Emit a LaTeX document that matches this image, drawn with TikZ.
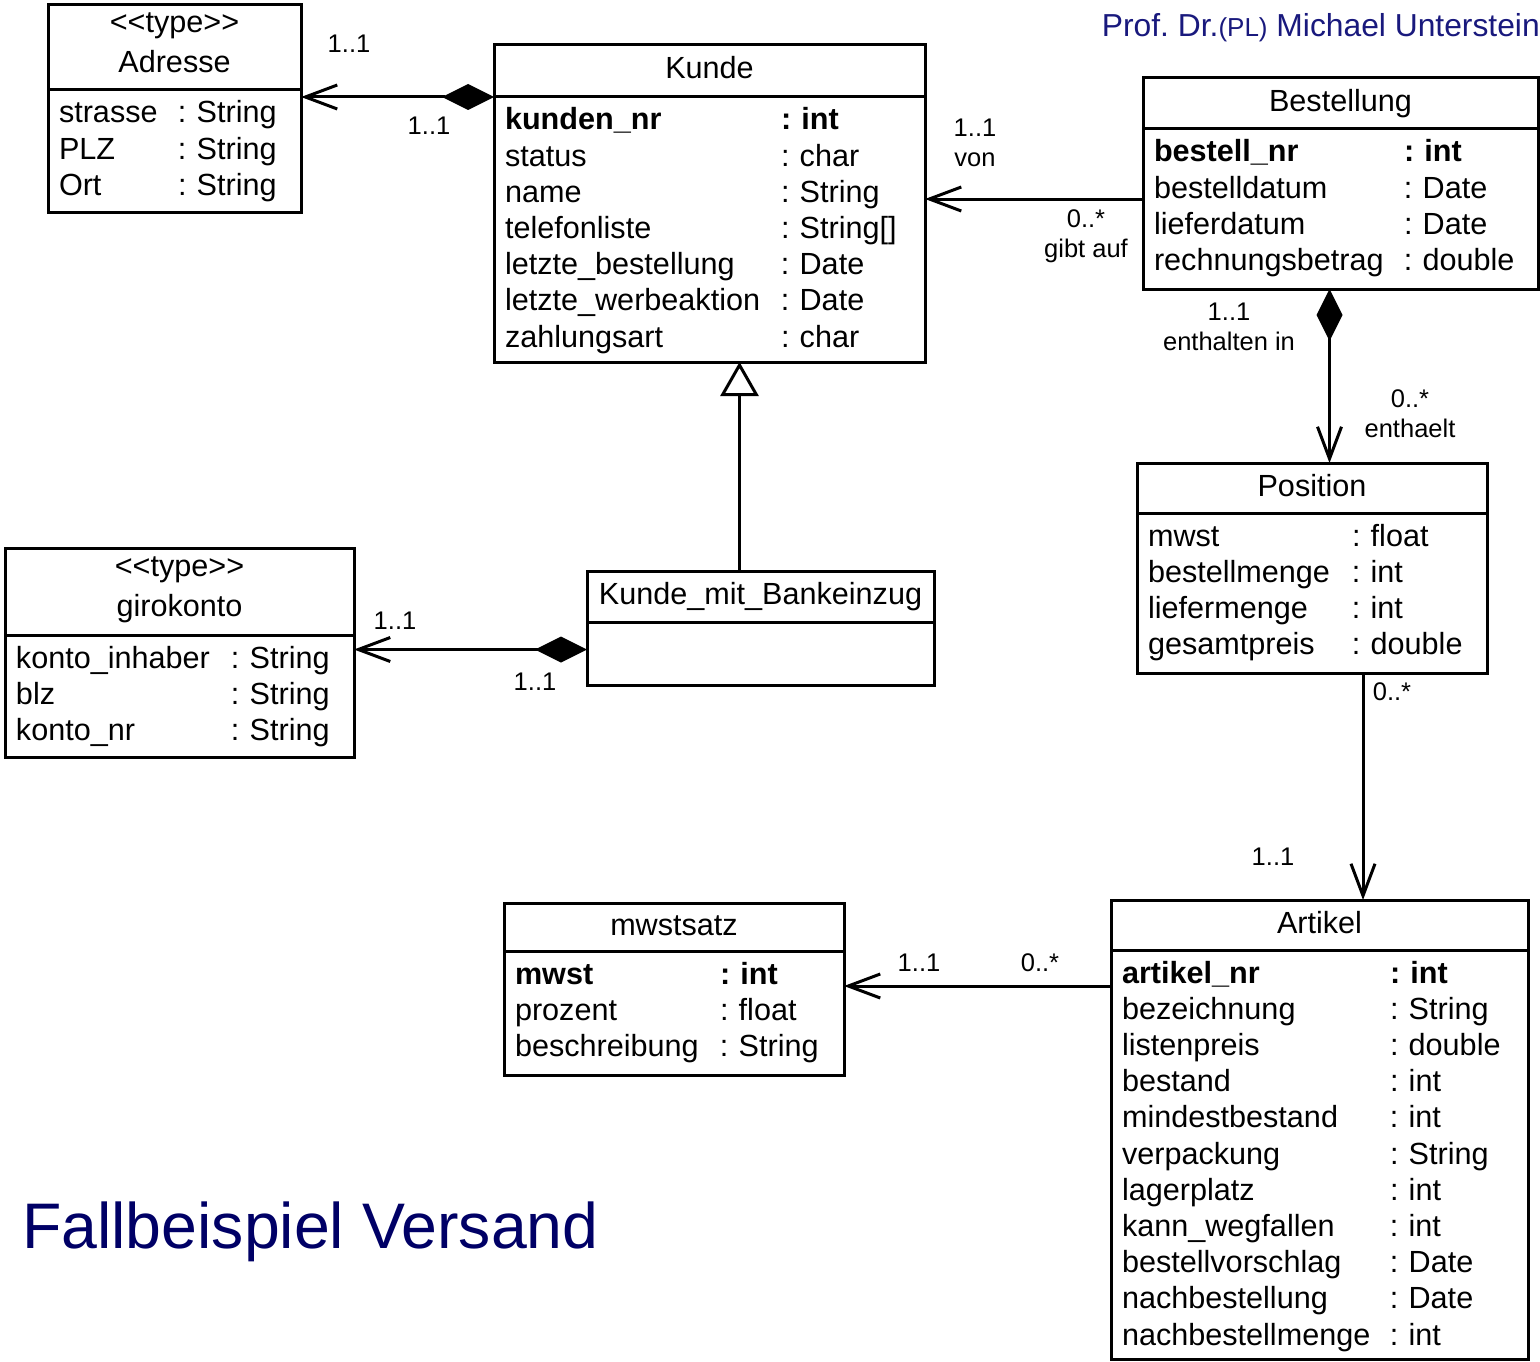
\documentclass[tikz,border=0pt]{standalone}
\usepackage{fontspec}
\setmainfont{Liberation Sans}
\usetikzlibrary{calc, positioning, arrows.meta}
\definecolor{titleblue}{RGB}{0,0,102}
\definecolor{profblue}{RGB}{25,25,125}
\frenchspacing
\newlength{\namecol}
\newcommand{\attr}[2]{\strut\makebox[\namecol][l]{#1}: #2}
\newcommand{\keyattr}[2]{\strut\textbf{\makebox[\namecol][l]{#1}: #2}}
\newcommand{\umlfont}{\fontsize{30.6}{36.2}\selectfont}
\newcommand{\multfont}{\fontsize{25.5}{30}\selectfont}
\tikzstyle{boxline}=[draw, line width=3pt, outer sep=0pt, anchor=north west, font=\umlfont]
\tikzstyle{classhead}=[boxline, align=center, inner sep=0pt, text height=22pt, text depth=6pt]
\tikzstyle{typehead}=[boxline, align=center, inner sep=0pt]
\tikzstyle{classbody}=[boxline, align=left, inner xsep=11pt, inner ysep=0pt, text height=33pt]
\tikzstyle{multlabel}=[font=\multfont, align=center, inner sep=0pt]
\tikzstyle{assoc}=[line width=3pt, -{Straight Barb[length=32pt, width=24pt]}]
\tikzstyle{comp}=[line width=3pt, {Diamond[length=52pt, width=26pt]}-{Straight Barb[length=32pt, width=24pt]}]
\tikzstyle{gen}=[line width=3pt, -{Triangle[length=34pt, width=38pt, fill=white]}]

\begin{document}
\begin{tikzpicture}[x=1pt, y=-1pt]
	\useasboundingbox (0,0) rectangle (1540,1362);
	\node[anchor=base west, inner sep=0pt, text=titleblue, font=\fontsize{64.4}{70}\selectfont] (title) at (22,1248) {Fallbeispiel Versand};
	\node[anchor=base east, inner sep=0pt, text=profblue, font=\fontsize{31.8}{36}\selectfont] (prof) at (1540,37) {Prof. Dr.{\fontsize{26}{28}\selectfont(PL)} Michael Unterstein};

	% Klassen
	\node[typehead, minimum width=253pt, minimum height=85pt] (adresse) at (48,5) {<{}<type>{}>\\[4pt]Adresse\rule[-9pt]{0pt}{9pt}};
	\node[classbody, text width=231pt, text depth=89pt] (adresseBody) at (adresse.south west) {\setlength{\namecol}{119pt}%
		\attr{strasse}{String}\\\attr{PLZ}{String}\\\attr{Ort}{String}};

	\node[classhead, minimum width=431pt, minimum height=52pt] (kunde) at (494,45) {Kunde};
	\node[classbody, text width=409pt, text depth=232pt] (kundeBody) at (kunde.south west) {\setlength{\namecol}{276pt}%
		\keyattr{kunden\_nr}{int}\\\attr{status}{char}\\\attr{name}{String}\\\attr{telefonliste}{String[]}\\
		\attr{letzte\_bestellung}{Date}\\\attr{letzte\_werbeaktion}{Date}\\\attr{zahlungsart}{char}};

	\node[classhead, minimum width=395pt, minimum height=51pt] (best) at (1143,78) {Bestellung};
	\node[classbody, text width=373pt, text depth=127pt] (bestBody) at (best.south west) {\setlength{\namecol}{250pt}%
		\keyattr{bestell\_nr}{int}\\\attr{bestelldatum}{Date}\\\attr{lieferdatum}{Date}\\\attr{rechnungsbetrag}{double}};

	\node[classhead, minimum width=350pt, minimum height=50pt] (posHead) at (1137,463) {Position};
	\node[classbody, text width=328pt, text depth=127pt] (posBody) at (posHead.south west) {\setlength{\namecol}{204pt}%
		\attr{mwst}{float}\\\attr{bestellmenge}{int}\\\attr{liefermenge}{int}\\\attr{gesamtpreis}{double}};

	\node[typehead, minimum width=349pt, minimum height=87pt] (giro) at (5,548) {<{}<type>{}>\\[4pt]girokonto\rule[-9pt]{0pt}{9pt}};
	\node[classbody, text width=327pt, text depth=89pt] (giroBody) at (giro.south west) {\setlength{\namecol}{215pt}%
		\attr{konto\_inhaber}{String}\\\attr{blz}{String}\\\attr{konto\_nr}{String}};

	\node[classhead, minimum width=347pt, minimum height=51pt] (kmbHead) at (587,571) {Kunde\_mit\_Bankeinzug};
	\node[classbody, text width=325pt, text depth=30pt] (kmbBody) at (kmbHead.south west) {};

	\node[classhead, minimum width=340pt, minimum height=48pt] (mwst) at (504,903) {mwstsatz};
	\node[classbody, text width=318pt, text depth=91pt] (mwstBody) at (mwst.south west) {\setlength{\namecol}{205pt}%
		\keyattr{mwst}{int}\\\attr{prozent}{float}\\\attr{beschreibung}{String}};

	\node[classhead, minimum width=417pt, minimum height=50pt] (artHead) at (1111,900) {Artikel};
	\node[classbody, text width=395pt, text depth=376pt] (artBody) at (artHead.south west) {\setlength{\namecol}{268pt}%
		\keyattr{artikel\_nr}{int}\\\attr{bezeichnung}{String}\\\attr{listenpreis}{double}\\\attr{bestand}{int}\\
		\attr{mindestbestand}{int}\\\attr{verpackung}{String}\\\attr{lagerplatz}{int}\\\attr{kann\_wegfallen}{int}\\
		\attr{bestellvorschlag}{Date}\\\attr{nachbestellung}{Date}\\\attr{nachbestellmenge}{int}};

	% Beziehungen
	\draw[comp] (kundeBody.north west) -- (kundeBody.north west -| adresseBody.east);
	\draw[assoc] ($(bestBody.west)+(0,-10)$) coordinate (b1) -- (b1 -| kundeBody.east);
	\draw[comp] ($(bestBody.south)+(-11,0)$) coordinate (b2) -- (b2 |- posHead.north);
	\draw[assoc] ($(posBody.south)+(51,0)$) coordinate (p1) -- (p1 |- artHead.north);
	\draw[assoc] ($(artBody.north west)+(0,36)$) coordinate (a1) -- (a1 -| mwstBody.east);
	\draw[comp] ($(kmbBody.west)+(0,-4)$) coordinate (k1) -- (k1 -| giroBody.east);
	\draw[gen] ($(kmbHead.north)+(-21,0)$) coordinate (k2) -- (k2 |- kundeBody.south);

	% Multiplizitaeten
	\node[multlabel] (m1) at (349,44) {1..1};
	\node[multlabel] (m2) at (429,126) {1..1};
	\node[multlabel] (m3) at (975,143) {1..1\\von};
	\node[multlabel] (m4) at (1086,236) {0..*\\gibt auf};
	\node[multlabel] (m5) at (1229,327) {1..1\\enthalten in};
	\node[multlabel] (m6) at (1410,414) {0..*\\enthaelt};
	\node[multlabel] (m7) at (1392,692) {0..*};
	\node[multlabel] (m8) at (1273,857) {1..1};
	\node[multlabel] (m9) at (395,621) {1..1};
	\node[multlabel] (m10) at (535,682) {1..1};
	\node[multlabel] (m11) at (919,963) {1..1};
	\node[multlabel] (m12) at (1040,963) {0..*};
\end{tikzpicture}
\end{document}
